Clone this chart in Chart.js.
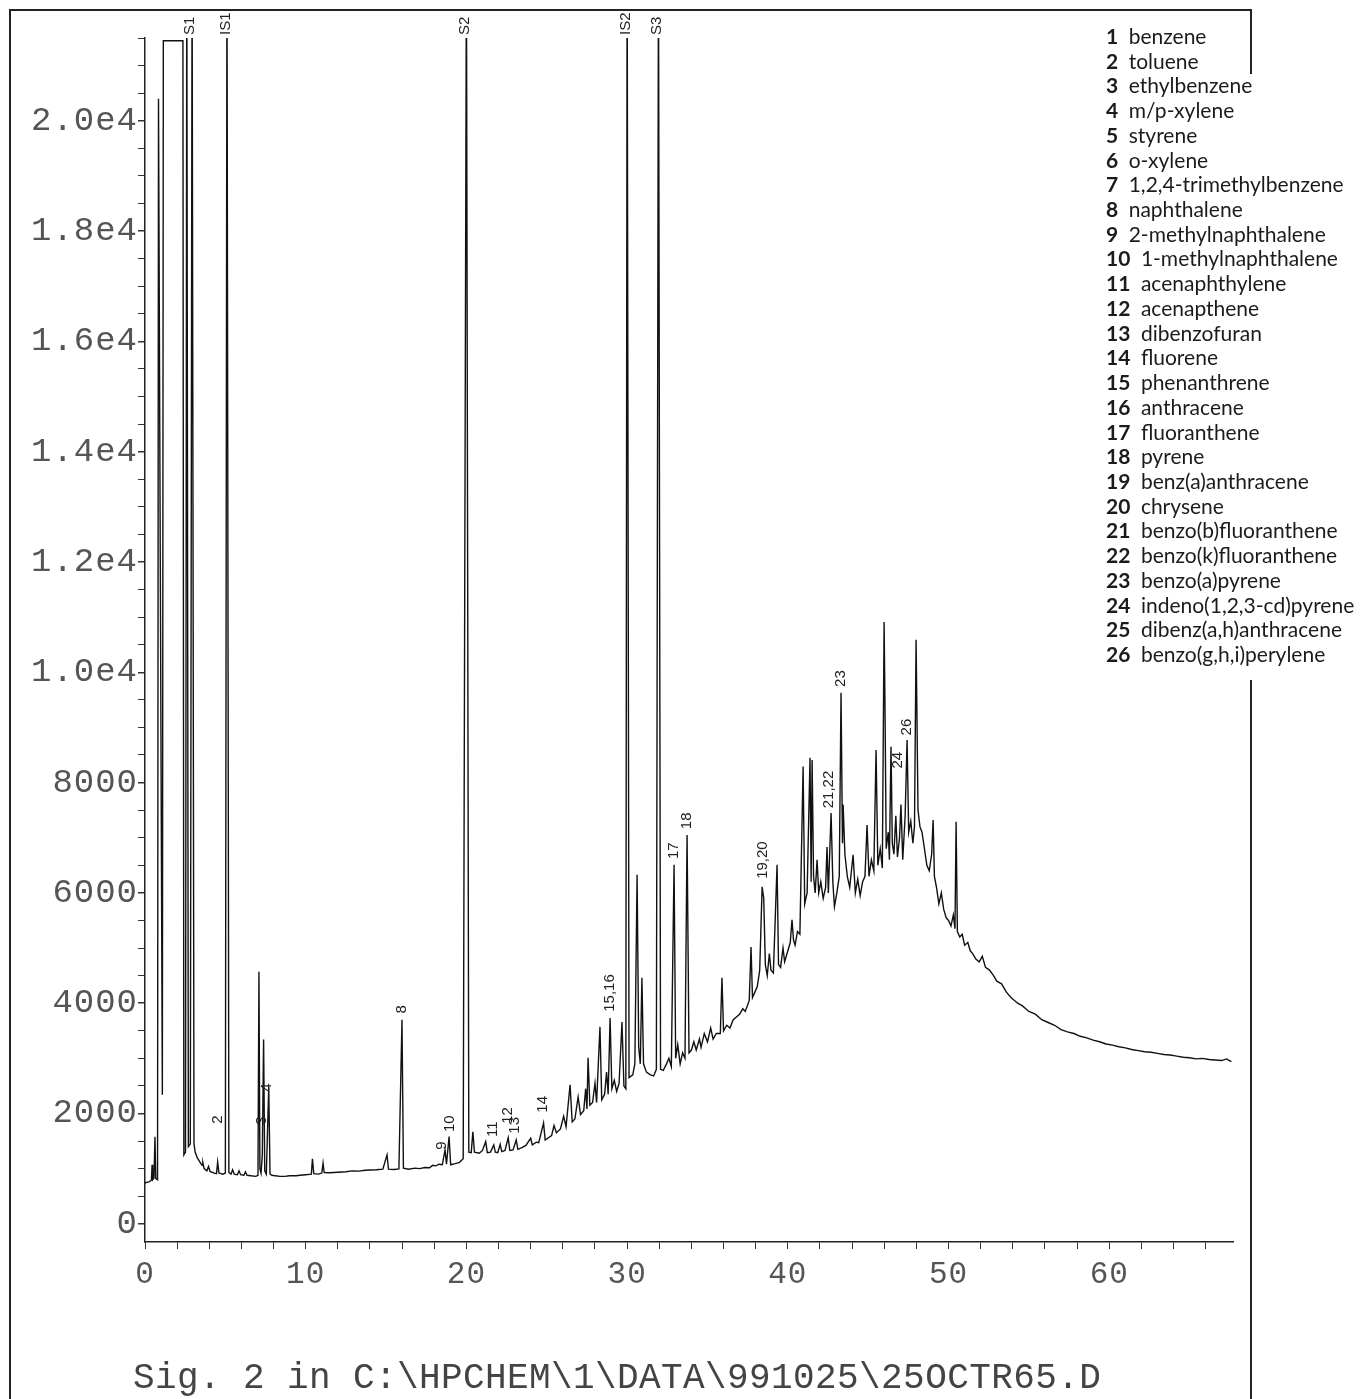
<!DOCTYPE html>
<html>
<head>
<meta charset="utf-8">
<script src="https://cdn.jsdelivr.net/npm/chart.js@4/dist/chart.umd.min.js"></script>
<style>
  html, body { margin: 0; padding: 0; background: #fff; }
  #wrap { position: relative; width: 1372px; height: 1399px; overflow: hidden; }
  canvas { position: absolute; left: 0; top: 0; }
  #frame { position: absolute; left: 9px; top: 9px; width: 1239px; height: 1420px;
           border: 2px solid #222; border-bottom: none; }
  #mask { position: absolute; left: 1240px; top: 74px; width: 20px; height: 606px; background: #fff; }
  #legend { position: absolute; left: 1106px; top: 24px; font-family: Lato, "Open Sans", sans-serif;
            font-size: 21px; line-height: 24.72px; color: #1b1b1b; white-space: nowrap; }
  #legend b { margin-right: 10.5px; }
  #sig { position: absolute; left: 133px; top: 1358px; font-family: "Liberation Mono", monospace;
         font-size: 36px; letter-spacing: 0.4px; color: #444; white-space: pre; }
</style>
</head>
<body>
<div id="wrap">
  <canvas id="chrom" width="1372" height="1399"></canvas>
  <div id="frame"></div>
  <div id="mask"></div>
  <div id="legend"></div>
  <div id="sig">Sig. 2 in C:\HPCHEM\1\DATA\991025\25OCTR65.D</div>
</div>
<script>
// retention time (min), abundance
const traceEarly = [
  [0.00,745],[0.25,760],[0.40,790],[0.44,1070],[0.48,800],[0.56,830],[0.62,1580],[0.67,820],[0.78,800],
  [0.84,20400],[1.08,2340],[1.14,21450],[2.36,21450],[2.42,1250],[2.52,1300],[2.60,23000],[2.70,1400],
  [2.82,1450],[2.93,23000],[3.05,1450],[3.12,1300],[3.25,1200],[3.42,1120],[3.55,1060],[3.60,1110],
  [3.68,1000],[3.85,960],[3.95,1040],[4.05,950],[4.30,920],[4.45,910],[4.52,1120],[4.60,920],[4.85,900],
  [5.00,920],[5.10,23000],[5.22,930],[5.35,900],[5.45,980],[5.55,900],[5.75,890],[5.85,960],[5.95,890],
  [6.15,880],[6.25,940],[6.35,880],[6.60,870],[6.90,860],[7.03,880],[7.09,4570],[7.15,1000],[7.22,920],
  [7.30,1250],[7.38,3340],[7.45,960],[7.55,900],[7.70,2480],[7.78,900],[7.90,880],[8.10,870],[8.40,860],
  [8.70,860],[9.00,870],[9.40,870],[9.65,880]
];

const traceMid = [
  [10.0,890],[10.35,900],[10.42,1180],[10.50,910],[10.80,900],[11.00,920],[11.08,1100],[11.15,930],
  [11.50,925],[12.0,935],[12.5,945],[12.9,960],[13.3,955],[13.7,970],[14.0,975],[14.4,980],[14.8,990],
  [15.06,1250],[15.15,990],[15.5,985],[15.8,995],[15.99,3700],[16.08,1010],[16.4,990],[16.8,1010],
  [17.1,1000],[17.4,1020],[17.7,1015],[17.9,1060],[18.1,1050],[18.3,1080],[18.5,1070],[18.67,1340],
  [18.76,1080],[18.92,1580],[19.02,1070],[19.3,1090],[19.55,1110],[19.8,1180],[20.0,23000],[20.15,1300],
  [20.3,1290],[20.4,1670],[20.5,1300],[20.8,1280],[21.0,1330],[21.2,1490],[21.3,1290],[21.5,1300],
  [21.7,1430],[21.8,1300],[21.95,1290],[22.1,1440],[22.2,1310],[22.4,1330],[22.6,1560],[22.7,1330],
  [22.9,1340],[23.1,1520],[23.2,1350],[23.45,1380],[23.7,1420],[24.0,1550],[24.1,1430],[24.35,1480],
  [24.5,1470],[24.8,1830],[24.9,1520],[25.1,1560],[25.3,1600],[25.45,1780],[25.6,1650],[25.85,1720],
  [26.05,1950],[26.2,1760],[26.45,2520],[26.58,1850],[26.75,1900],[26.95,2300],[27.1,1980],[27.3,2050],
  [27.42,2450],[27.5,2080],[27.57,3010],[27.68,2150],[27.85,2200],[28.0,2550],[28.1,2200],[28.31,3570],
  [28.42,2250],[28.6,2350],[28.72,2750],[28.82,2350],[28.94,3730],[29.05,2450],[29.2,2600],[29.35,2400],
  [29.5,2550],[29.68,3660],[29.8,2500],[29.92,2450]
];

const traceLate = [
  [30.0,23000],[30.12,2650],[30.35,2700],[30.48,2900],[30.62,6330],[30.72,3200],[30.82,2900],[30.92,4460],
  [31.02,2900],[31.2,2750],[31.45,2700],[31.65,2680],[31.82,2800],[31.95,23000],[32.08,2800],[32.25,2780],
  [32.45,2900],[32.6,3000],[32.75,2850],[32.92,6510],[33.02,3000],[33.15,3250],[33.3,2900],[33.45,3100],
  [33.6,3000],[33.73,7050],[33.85,3100],[34.0,3150],[34.15,3300],[34.3,3150],[34.5,3350],[34.6,3200],
  [34.8,3450],[35.0,3300],[35.2,3550],[35.35,3350],[35.55,3450],[35.8,3450],[35.9,4460],[36.0,3500],
  [36.2,3600],[36.4,3550],[36.6,3700],[36.8,3750],[37.0,3800],[37.2,3900],[37.35,3850],[37.6,4050],
  [37.71,5020],[37.8,4100],[37.95,4200],[38.1,4300],[38.25,4600],[38.4,6110],[38.5,5900],[38.6,4700],
  [38.72,4500],[38.85,4900],[38.95,4600],[39.1,4550],[39.33,6510],[39.42,4700],[39.55,4650],[39.7,5000],
  [39.8,4750],[39.95,4900],[40.15,5100],[40.26,5510],[40.35,5150],[40.45,5050],[40.6,5300],[40.75,5250],
  [40.95,8290],[41.05,5800],[41.2,6000],[41.38,8450],[41.45,6200],[41.51,8410],[41.6,6300],[41.7,6000],
  [41.82,6600],[41.92,6000],[42.05,6200],[42.2,5900],[42.35,6100],[42.44,6830],[42.52,6000],[42.69,7450],
  [42.8,6200],[42.9,5750],[43.05,6000],[43.2,6300],[43.31,9630],[43.4,6900],[43.44,7600],[43.55,6700],
  [43.7,6300],[43.85,6100],[44.06,6690],[44.2,6000],[44.35,6250],[44.5,5950],[44.65,6200],[44.8,6300],
  [44.93,7230],[45.05,6300],[45.2,6600],[45.35,6400],[45.49,8590],[45.6,6500],[45.75,6800],[45.88,6450],
  [45.99,10910],[46.05,9260],[46.12,6800],[46.25,7100],[46.32,6600],[46.42,8650],[46.5,6900],[46.6,6700],
  [46.72,7400],[46.82,6650],[46.95,7000],[47.04,7600],[47.15,6600],[47.3,7400],[47.42,8770],[47.52,7100],
  [47.65,7300],[47.78,6900],[47.88,7200],[47.98,10590],[48.1,7500],[48.22,7200],[48.35,7100],[48.5,6800],
  [48.65,6500],[48.8,6400],[48.95,6700],[49.04,7320],[49.12,6300],[49.25,6100],[49.4,5800],[49.55,6000],
  [49.7,5700],[49.85,5550],[50.0,5500],[50.15,5400],[50.3,5600],[50.4,5350],[50.47,7290],[50.55,5300],
  [50.7,5200],[50.85,5250],[51.0,5050],[51.2,5100],[51.35,4950],[51.5,4900],[51.7,4800],[51.9,4750],
  [52.1,4850],[52.3,4650],[52.55,4600],[52.8,4500],[53.0,4400],[53.3,4350],[53.6,4200],[53.9,4100],
  [54.3,4000],[54.6,3950],[55.0,3850],[55.4,3800],[55.8,3700],[56.2,3650],[56.6,3600],[57.0,3520],
  [57.4,3480],[57.8,3450],[58.2,3400],[58.6,3370],[59.0,3330],[59.4,3300],[59.8,3260],[60.2,3240],
  [60.6,3210],[61.0,3190],[61.4,3160],[61.8,3140],[62.2,3120],[62.6,3110],[63.0,3090],[63.4,3070],
  [63.8,3060],[64.2,3040],[64.6,3020],[65.0,3010],[65.4,2990],[65.8,3000],[66.2,2980],[66.6,2970],
  [67.0,2960],[67.3,2990],[67.6,2940]
];

// compound numbers written above peaks: time, abundance where the tag starts, text
const peakLabels = [
  [4.55,1760,'2'],[7.28,1740,'3'],[7.60,2340,'4'],[15.99,3760,'8'],[18.45,1290,'9'],[18.95,1610,'10'],
  [21.62,1520,'11'],[22.59,1760,'12'],[23.02,1580,'13'],[24.75,1960,'14'],[28.94,3790,'15,16'],
  [32.92,6560,'17'],[33.73,7100,'18'],[38.46,6200,'19,20'],[42.55,7480,'21,22'],[43.31,9680,'23'],
  [46.86,8200,'24'],[47.42,8800,'26']
];

// off-scale standards, tagged above the plot
const standardLabels = [[2.80,'S1'],[5.02,'IS1'],[19.90,'S2'],[29.90,'IS2'],[31.85,'S3']];

const yMajor = [0,2000,4000,6000,8000,10000,12000,14000,16000,18000,20000];
const yMajorText = ['0','2000','4000','6000','8000','1.0e4','1.2e4','1.4e4','1.6e4','1.8e4','2.0e4'];
const xMajor = [0,10,20,30,40,50,60];

const compounds = ['benzene','toluene','ethylbenzene','m/p-xylene','styrene','o-xylene',
  '1,2,4-trimethylbenzene','naphthalene','2-methylnaphthalene','1-methylnaphthalene',
  'acenaphthylene','acenapthene','dibenzofuran','fluorene','phenanthrene','anthracene',
  'fluoranthene','pyrene','benz(a)anthracene','chrysene','benzo(b)fluoranthene',
  'benzo(k)fluoranthene','benzo(a)pyrene','indeno(1,2,3-cd)pyrene','dibenz(a,h)anthracene',
  'benzo(g,h,i)perylene'];

document.getElementById('legend').innerHTML =
  compounds.map((c, i) => '<div><b>' + (i + 1) + '</b>' + c + '</div>').join('');

const signal = traceEarly.concat(traceMid, traceLate).map(p => ({ x: p[0], y: p[1] }));

const yTicks = [];
for (let v = 0; v <= 21500; v += 500) yTicks.push(v);

const spacing = {
  id: 'spacing',
  beforeDraw(chart) { chart.ctx.letterSpacing = '1px'; }
};

const tags = {
  id: 'tags',
  afterDatasetsDraw(chart) {
    const { ctx, chartArea } = chart;
    const x = chart.scales.x, y = chart.scales.y;
    ctx.save();
    ctx.letterSpacing = '0px';
    ctx.font = '15px "Liberation Sans", Arial, sans-serif';
    ctx.fillStyle = '#222';
    ctx.textBaseline = 'middle';
    ctx.textAlign = 'left';
    const put = (px, py, txt) => {
      ctx.save();
      ctx.translate(px, py);
      ctx.rotate(-Math.PI / 2);
      ctx.fillText(txt, 0, 0);
      ctx.restore();
    };
    peakLabels.forEach(([t, v, txt]) => put(x.getPixelForValue(t), y.getPixelForValue(v) - 3, txt));
    standardLabels.forEach(([t, txt]) => put(x.getPixelForValue(t), chartArea.top - 3, txt));
    ctx.restore();
  }
};

new Chart(document.getElementById('chrom'), {
  type: 'scatter',
  data: {
    datasets: [{
      data: signal,
      showLine: true,
      borderColor: '#111',
      borderWidth: 1.4,
      pointRadius: 0,
      tension: 0
    }]
  },
  options: {
    responsive: false,
    animation: false,
    layout: { padding: { left: 0, top: 38, right: 139, bottom: 0 } },
    plugins: { legend: { display: false }, tooltip: { enabled: false } },
    scales: {
      x: {
        type: 'linear', min: 0, max: 67.7,
        afterFit(s) { s.height = 157; },
        grid: { drawOnChartArea: false, tickLength: 7, color: '#333' },
        border: { color: '#222', width: 1.5 },
        ticks: {
          stepSize: 2, includeBounds: false, autoSkip: false, maxRotation: 0, padding: 7,
          font: { family: '"Liberation Mono", monospace', size: 31 }, color: '#555',
          callback: v => xMajor.includes(v) ? String(v) : ''
        }
      },
      y: {
        min: -330, max: 21500,
        afterFit(s) { s.width = 145; },
        afterBuildTicks(s) { s.ticks = yTicks.map(v => ({ value: v })); },
        grid: {
          drawOnChartArea: false, tickLength: 7, color: '#333',
          lineWidth: c => (yMajor.includes(c.tick && c.tick.value) ? 1.5 : 1)
        },
        border: { color: '#222', width: 1.5 },
        ticks: {
          autoSkip: false, padding: 0,
          font: { family: '"Liberation Mono", monospace', size: 34 }, color: '#555',
          callback: v => { const i = yMajor.indexOf(v); return i >= 0 ? yMajorText[i] : ''; }
        }
      }
    }
  },
  plugins: [spacing, tags]
});
</script>
</body>
</html>
